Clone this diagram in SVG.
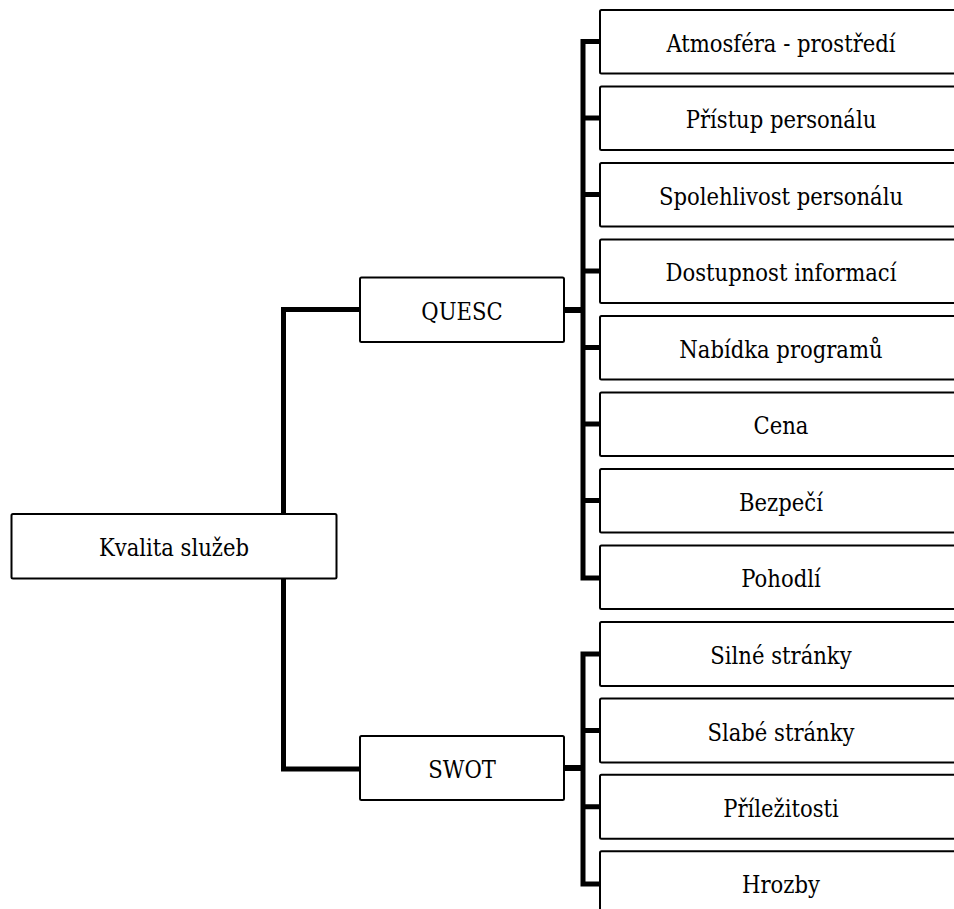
<svg xmlns="http://www.w3.org/2000/svg" width="954" height="909" viewBox="0 0 954 909">
  <style>
    .box { fill: #ffffff; stroke: #000000; stroke-width: 2; }
    .lbl { font-family: 'DejaVu Serif Condensed', 'DejaVu Serif', serif; font-stretch: condensed; font-size: 23.5px; fill: #000000; text-anchor: middle; }
    .wire { fill: none; stroke: #000000; stroke-width: 5; stroke-linejoin: miter; stroke-linecap: butt; }
    .stub { fill: none; stroke: #000000; stroke-width: 6; }
  </style>
  <rect width="954" height="909" fill="#ffffff"/>

  <!-- connectors -->
  <g id="connectors">
    <!-- root to the two branches -->
    <path class="wire" d="M283.5,514 V309.5 H360"/>
    <path class="wire" d="M283.5,578 V769 H360"/>
    <!-- QUESC branch -->
    <path class="stub" d="M564,310 H583"/>
    <path class="wire" d="M600,41.5 H583 V578 H600"/>
    <path class="wire" d="M583,118 H600 M583,194.5 H600 M583,271 H600 M583,347.5 H600 M583,424 H600 M583,500.5 H600"/>
    <!-- SWOT branch -->
    <path class="stub" d="M564,768 H583"/>
    <path class="wire" d="M600,654 H583 V884 H600"/>
    <path class="wire" d="M583,730.4 H600 M583,806.8 H600"/>
  </g>

  <!-- root -->
  <g id="n-kvalita">
    <rect class="box" x="11.5" y="514" width="325" height="64.5" rx="1.5"/>
    <text class="lbl" x="174" y="556">Kvalita služeb</text>
  </g>

  <!-- branches -->
  <g id="n-quesc">
    <rect class="box" x="360" y="277.5" width="204" height="64.5" rx="1.5"/>
    <text class="lbl" x="462" y="319.5">QUESC</text>
  </g>
  <g id="n-swot">
    <rect class="box" x="360" y="736" width="204" height="64" rx="1.5"/>
    <text class="lbl" x="462" y="778">SWOT</text>
  </g>

  <!-- QUESC items -->
  <g id="n-atmosfera">
    <rect class="box" x="600" y="10" width="362" height="63.5" rx="1.5"/>
    <text class="lbl" x="781" y="51.5">Atmosféra - prostředí</text>
  </g>
  <g id="n-pristup">
    <rect class="box" x="600" y="86.5" width="362" height="63.5" rx="1.5"/>
    <text class="lbl" x="781" y="128">Přístup personálu</text>
  </g>
  <g id="n-spolehlivost">
    <rect class="box" x="600" y="163" width="362" height="63.5" rx="1.5"/>
    <text class="lbl" x="781" y="204.5">Spolehlivost personálu</text>
  </g>
  <g id="n-dostupnost">
    <rect class="box" x="600" y="239.5" width="362" height="63.5" rx="1.5"/>
    <text class="lbl" x="781" y="281">Dostupnost informací</text>
  </g>
  <g id="n-nabidka">
    <rect class="box" x="600" y="316" width="362" height="63.5" rx="1.5"/>
    <text class="lbl" x="781" y="357.5">Nabídka programů</text>
  </g>
  <g id="n-cena">
    <rect class="box" x="600" y="392.5" width="362" height="63.5" rx="1.5"/>
    <text class="lbl" x="781" y="434">Cena</text>
  </g>
  <g id="n-bezpeci">
    <rect class="box" x="600" y="469" width="362" height="63.5" rx="1.5"/>
    <text class="lbl" x="781" y="510.5">Bezpečí</text>
  </g>
  <g id="n-pohodli">
    <rect class="box" x="600" y="545.5" width="362" height="63.5" rx="1.5"/>
    <text class="lbl" x="781" y="587">Pohodlí</text>
  </g>

  <!-- SWOT items -->
  <g id="n-silne">
    <rect class="box" x="600" y="622" width="362" height="64" rx="1.5"/>
    <text class="lbl" x="781" y="664">Silné stránky</text>
  </g>
  <g id="n-slabe">
    <rect class="box" x="600" y="698.4" width="362" height="64" rx="1.5"/>
    <text class="lbl" x="781" y="740.5">Slabé stránky</text>
  </g>
  <g id="n-prilezitosti">
    <rect class="box" x="600" y="774.8" width="362" height="64" rx="1.5"/>
    <text class="lbl" x="781" y="817">Příležitosti</text>
  </g>
  <g id="n-hrozby">
    <rect class="box" x="600" y="851.2" width="362" height="64" rx="1.5"/>
    <text class="lbl" x="781" y="893">Hrozby</text>
  </g>
</svg>
